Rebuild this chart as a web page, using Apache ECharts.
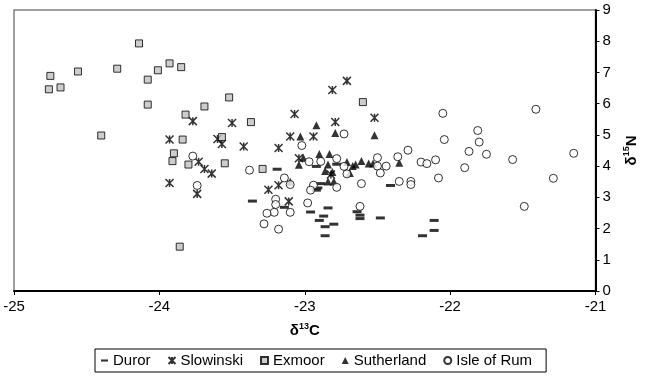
<!DOCTYPE html>
<html>
<head>
<meta charset="utf-8">
<script src="https://cdn.jsdelivr.net/npm/echarts@6/dist/echarts.min.js"></script>
<style>
  html, body { margin: 0; padding: 0; background: #fff; }
  #main { width: 647px; height: 378px; }
</style>
</head>
<body>
<div id="main"></div>
<script>
// δ13C / δ15N pairs
const duror = [
  [-23.19, 3.90], [-23.36, 2.88], [-23.14, 2.68], [-22.92, 3.99], [-22.78, 4.06],
  [-22.89, 3.44], [-22.91, 3.30], [-22.92, 3.23], [-22.96, 2.53], [-22.84, 2.66],
  [-22.87, 2.40], [-22.90, 2.26], [-22.80, 2.14], [-22.86, 2.06], [-22.86, 1.77],
  [-22.64, 2.54], [-22.62, 2.43], [-22.62, 2.32], [-22.48, 2.34], [-22.41, 3.38],
  [-22.19, 1.77], [-22.11, 2.26], [-22.11, 1.94]
];
const slowinski = [
  [-23.93, 4.85], [-23.93, 3.46], [-23.77, 5.44], [-23.74, 3.11], [-23.73, 4.14],
  [-23.69, 3.91], [-23.64, 3.76], [-23.60, 4.87], [-23.57, 4.71], [-23.50, 5.38],
  [-23.42, 4.63], [-23.25, 3.24], [-23.18, 3.39], [-23.18, 4.58], [-23.11, 2.87],
  [-23.10, 4.95], [-23.07, 5.67], [-23.04, 4.25], [-22.94, 4.95], [-22.81, 6.44],
  [-22.79, 5.41], [-22.71, 6.73], [-22.52, 5.55], [-22.82, 3.73]
];
const exmoor = [
  [-24.75, 6.89], [-24.76, 6.46], [-24.68, 6.52], [-24.56, 7.03], [-24.29, 7.12],
  [-24.14, 7.93], [-24.08, 6.77], [-24.01, 7.07], [-23.93, 7.29], [-23.85, 7.17],
  [-24.08, 5.97], [-24.40, 4.98], [-23.69, 5.91], [-23.82, 5.65], [-23.84, 4.85],
  [-23.90, 4.41], [-23.91, 4.16], [-23.80, 4.05], [-23.86, 1.42], [-23.52, 6.20],
  [-23.37, 5.41], [-23.57, 4.93], [-22.60, 6.05], [-23.55, 4.09], [-23.29, 3.91]
];
const sutherland = [
  [-22.92, 5.31], [-23.03, 4.95], [-22.79, 5.06], [-22.52, 4.99], [-23.04, 4.04],
  [-23.01, 4.27], [-22.90, 4.39], [-22.83, 4.39], [-22.84, 4.05], [-22.86, 3.84],
  [-22.81, 3.81], [-22.84, 3.51], [-22.80, 3.51], [-22.71, 4.13], [-22.67, 4.00],
  [-22.65, 4.05], [-22.69, 3.78], [-22.61, 4.16], [-22.56, 4.08], [-22.53, 4.08],
  [-22.35, 4.11], [-23.10, 3.50]
];
const isleOfRum = [
  [-23.77, 4.32], [-23.74, 3.38], [-23.38, 3.87], [-23.14, 3.62], [-23.10, 3.41],
  [-23.02, 4.66], [-22.97, 4.14], [-22.89, 4.15], [-22.78, 4.24], [-22.73, 5.03],
  [-22.73, 3.99], [-22.71, 3.75], [-22.61, 3.44], [-22.50, 4.27], [-22.50, 4.00],
  [-22.48, 3.78], [-22.44, 4.00], [-22.36, 4.30], [-22.29, 4.51], [-22.35, 3.51],
  [-22.27, 3.51], [-22.27, 3.41], [-23.20, 2.94], [-23.20, 2.77], [-23.21, 2.52],
  [-23.26, 2.49], [-23.10, 2.52], [-23.28, 2.15], [-23.18, 1.98], [-22.94, 3.39],
  [-22.96, 3.23], [-22.98, 2.82], [-22.78, 3.32], [-22.62, 2.71], [-22.20, 4.13],
  [-22.16, 4.08], [-22.10, 4.20], [-22.08, 3.62], [-22.05, 5.69], [-22.04, 4.85],
  [-21.90, 3.95], [-21.87, 4.47], [-21.81, 5.14], [-21.80, 4.77], [-21.75, 4.38],
  [-21.57, 4.21], [-21.49, 2.71], [-21.41, 5.82], [-21.29, 3.61], [-21.15, 4.41]
];

const font = 'Liberation Sans, Arial, sans-serif';
const dashIcon = 'path://M0,0L10,0L10,3L0,3Z';
const starIcon = 'path://M0,0L10,10M10,0L0,10M5,0L5,10';

const chart = echarts.init(document.getElementById('main'));

const option = {
  animation: false,
  textStyle: { fontFamily: font },
  grid: {
    left: 14, top: 10, right: 45, bottom: 87,
    show: true,
    borderColor: '#808080',
    borderWidth: 1.5
  },
  legend: {
    left: 95, top: 349,
    padding: [4, 14, 4, 6],
    borderColor: '#000',
    borderWidth: 1,
    itemWidth: 7,
    itemHeight: 7,
    itemGap: 17,
    textStyle: { fontSize: 15, color: '#000', fontFamily: font },
    data: ['Duror', 'Slowinski', 'Exmoor', 'Sutherland', 'Isle of Rum']
  },
  xAxis: {
    type: 'value',
    min: -25, max: -21, interval: 1,
    splitLine: { show: false },
    axisLine: { lineStyle: { color: '#000', width: 2 } },
    axisTick: { inside: false, length: 4, lineStyle: { color: '#000' } },
    axisLabel: { color: '#000', fontSize: 15, margin: 8, fontFamily: font },
    name: '{d|δ}{s|13}{d|C}',
    nameLocation: 'middle',
    nameGap: 31,
    nameTextStyle: {
      rich: {
        d: { fontSize: 15, fontWeight: 'bold', color: '#000', fontFamily: font, lineHeight: 18 },
        s: { fontSize: 9, fontWeight: 'bold', color: '#000', fontFamily: font, lineHeight: 10, verticalAlign: 'top' }
      }
    }
  },
  yAxis: {
    type: 'value',
    position: 'right',
    min: 0, max: 9, interval: 1,
    splitLine: { show: false },
    axisLine: { show: true, lineStyle: { color: '#000', width: 2 } },
    axisTick: { show: true, inside: false, length: 4, lineStyle: { color: '#000' } },
    axisLabel: { color: '#000', fontSize: 15, margin: 7, fontFamily: font },
    name: '{d|δ}{s|15}{d|N}',
    nameLocation: 'middle',
    nameRotate: 90,
    nameGap: 27,
    nameTextStyle: {
      rich: {
        d: { fontSize: 15, fontWeight: 'bold', color: '#000', fontFamily: font, lineHeight: 18 },
        s: { fontSize: 9, fontWeight: 'bold', color: '#000', fontFamily: font, lineHeight: 10, verticalAlign: 'top' }
      }
    }
  },
  series: [
    {
      name: 'Duror', type: 'scatter', data: duror,
      symbol: dashIcon, symbolSize: [9, 3],
      itemStyle: { color: '#000' }
    },
    {
      name: 'Slowinski', type: 'scatter', data: slowinski,
      symbol: starIcon, symbolSize: 8,
      itemStyle: { color: 'rgba(0,0,0,0)', borderColor: '#000', borderWidth: 1.5 }
    },
    {
      name: 'Exmoor', type: 'scatter', data: exmoor,
      symbol: 'rect', symbolSize: 7,
      itemStyle: { color: '#c0c0c0', borderColor: '#000', borderWidth: 1 }
    },
    {
      name: 'Sutherland', type: 'scatter', data: sutherland,
      symbol: 'triangle', symbolSize: 8,
      itemStyle: { color: '#000' }
    },
    {
      name: 'Isle of Rum', type: 'scatter', data: isleOfRum,
      symbol: 'circle', symbolSize: 8,
      itemStyle: { color: '#fff', borderColor: '#000', borderWidth: 1 }
    }
  ]
};

chart.setOption(option);
</script>
</body>
</html>
